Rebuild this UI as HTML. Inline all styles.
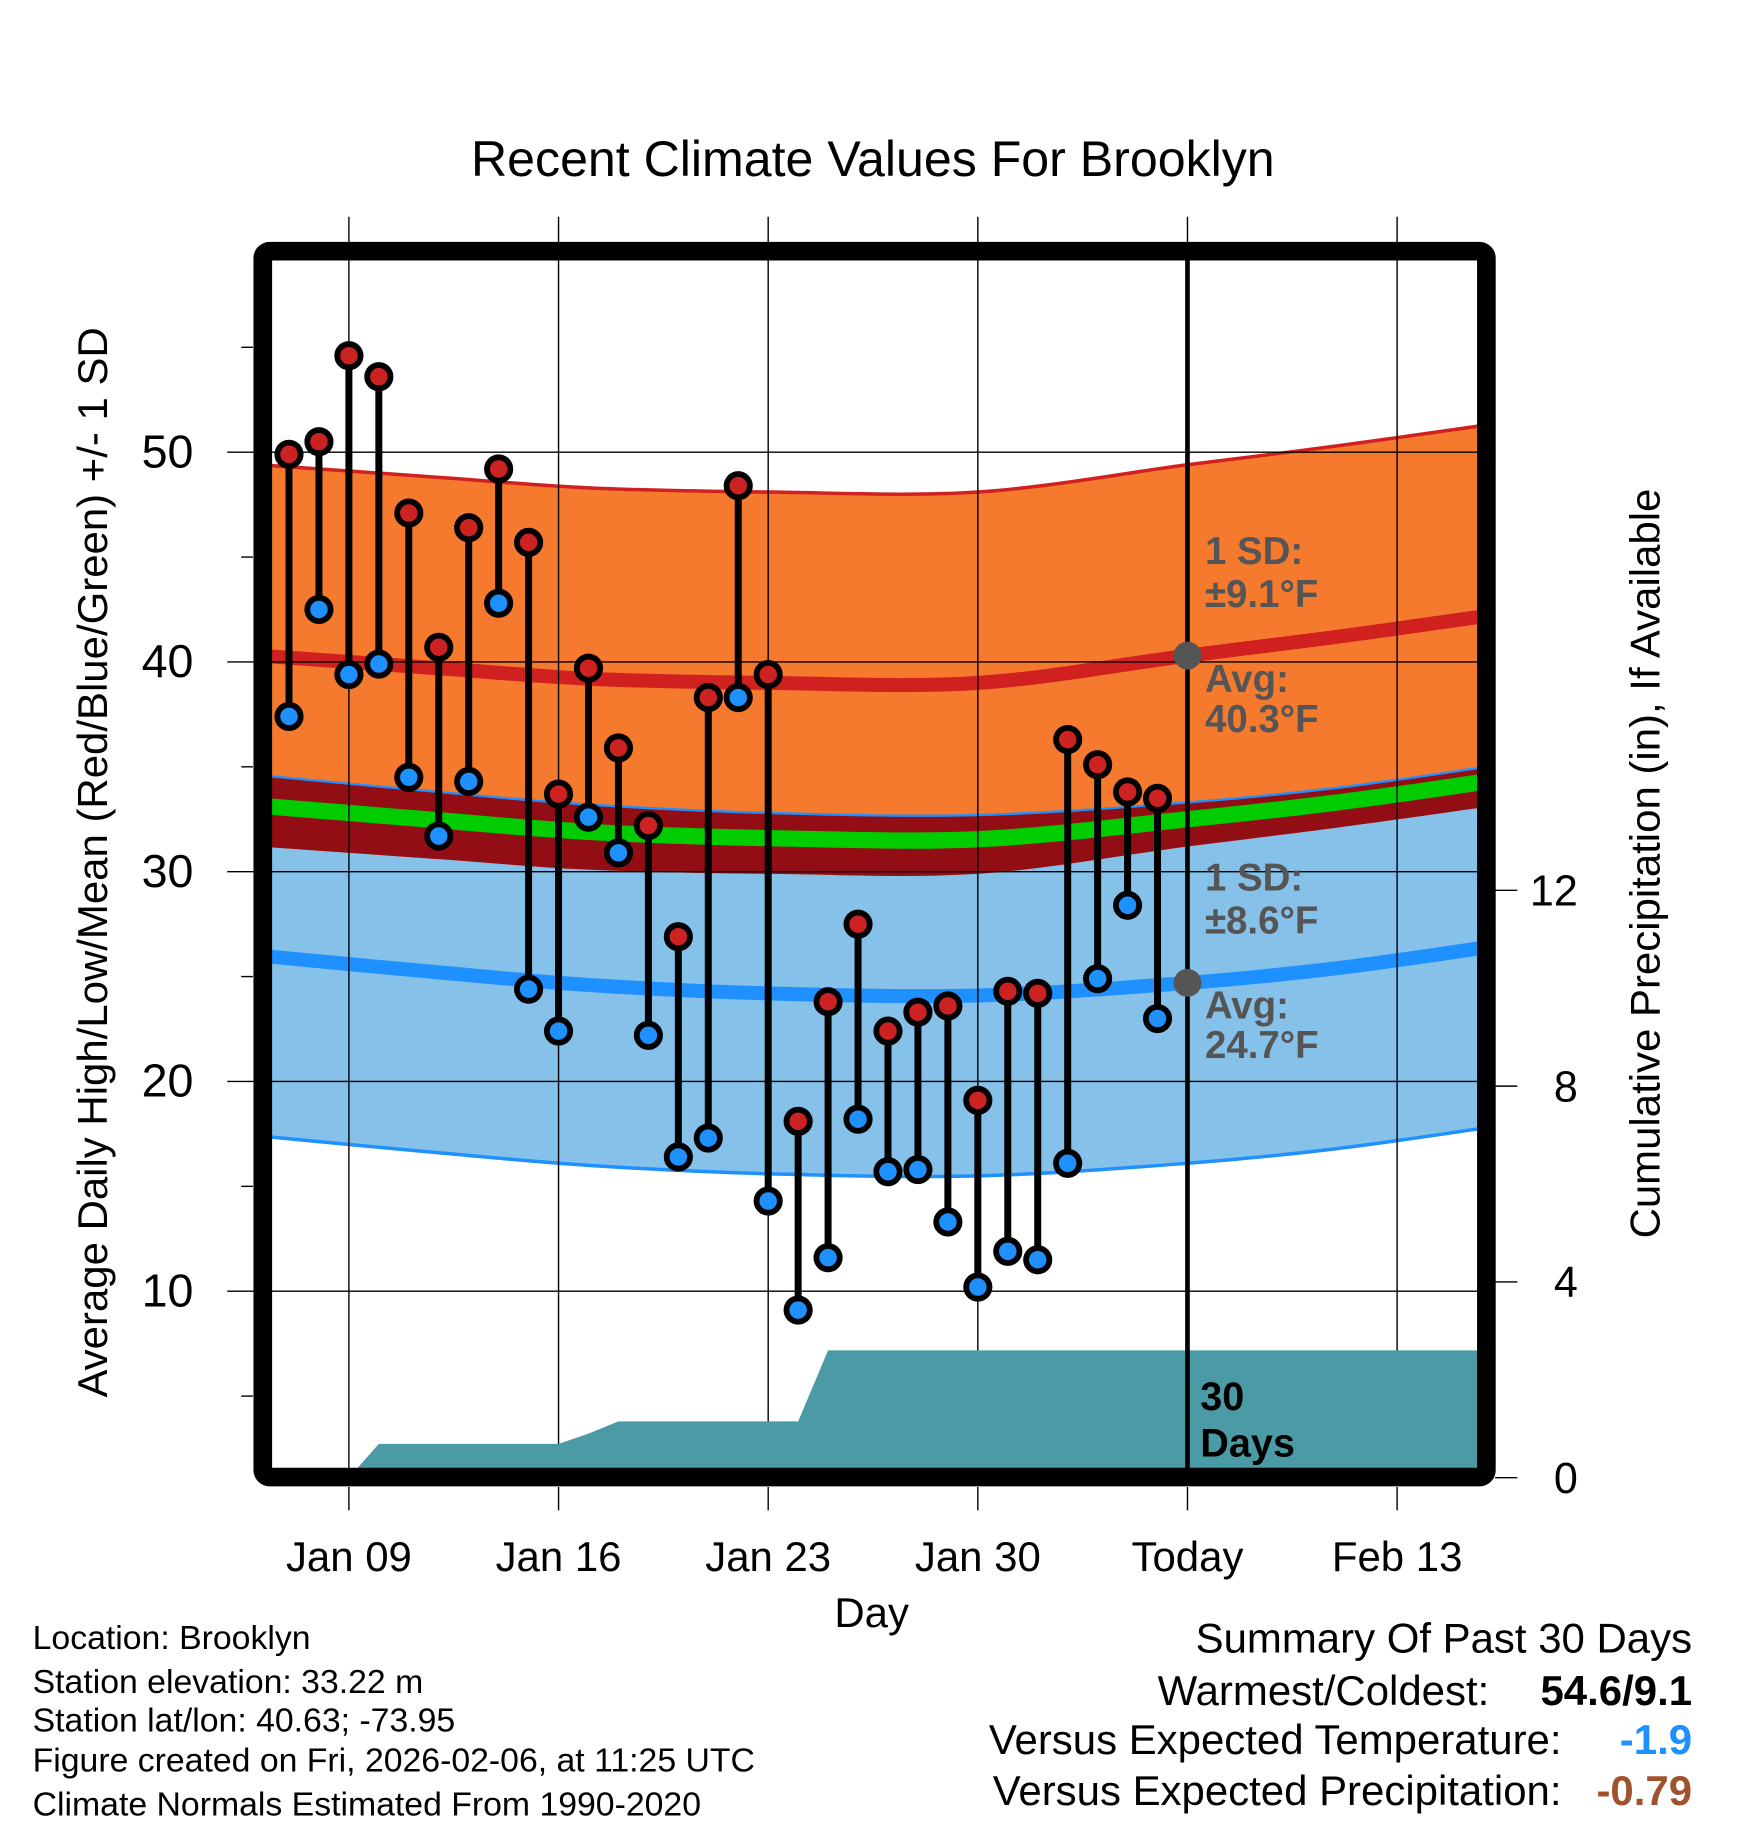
<!DOCTYPE html>
<html><head><meta charset="utf-8"><style>
html,body{margin:0;padding:0;background:#fff}
svg{display:block;font-family:"Liberation Sans",sans-serif}
</style></head><body>
<svg id="chart" xmlns="http://www.w3.org/2000/svg" width="1748" height="1828" viewBox="0 0 1500 1568.6">
<defs><clipPath id="plotclip"><rect x="233" y="223" width="1035" height="1037"/></clipPath></defs>
<rect x="0" y="0" width="1500" height="1568.6" fill="#fff"/>
<text x="749" y="151" font-size="43" text-anchor="middle">Recent Climate Values For Brooklyn</text>
<g id="bands" clip-path="url(#plotclip)"></g>
<g id="grid"></g>
<g id="precip" clip-path="url(#plotclip)"></g>
<g id="marks"></g>
<g id="annot">
<text x="1030" y="1210" font-size="34" font-weight="bold">30</text>
<text x="1030" y="1250" font-size="34" font-weight="bold">Days</text>
<g fill="#555" font-size="33" font-weight="bold">
<text x="1034" y="484">1 SD:</text>
<text x="1034" y="521">±9.1°F</text>
<text x="1034" y="594">Avg:</text>
<text x="1034" y="628">40.3°F</text>
<text x="1034" y="764">1 SD:</text>
<text x="1034" y="801">±8.6°F</text>
<text x="1034" y="874">Avg:</text>
<text x="1034" y="908">24.7°F</text>
</g></g>
<rect x="225.5" y="215.5" width="1050" height="1052" rx="6" fill="none" stroke="#000" stroke-width="16"/>
<g id="axes"></g>
<text transform="translate(92,740) rotate(-90)" font-size="36" text-anchor="middle">Average Daily High/Low/Mean (Red/Blue/Green) +/- 1 SD</text>
<text transform="translate(1424,741) rotate(-90)" font-size="36" text-anchor="middle">Cumulative Precipitation (in), If Available</text>
<text x="748" y="1396" font-size="36" text-anchor="middle">Day</text>
<g font-size="29">
<text x="28" y="1415">Location: Brooklyn</text>
<text x="28" y="1453">Station elevation: 33.22 m</text>
<text x="28" y="1486">Station lat/lon: 40.63; -73.95</text>
<text x="28" y="1520">Figure created on Fri, 2026-02-06, at 11:25 UTC</text>
<text x="28" y="1558">Climate Normals Estimated From 1990-2020</text>
</g>
<g font-size="36" text-anchor="end">
<text x="1452" y="1418">Summary Of Past 30 Days</text>
<text x="1278" y="1463">Warmest/Coldest:</text>
<text x="1452" y="1463" font-weight="bold">54.6/9.1</text>
<text x="1340" y="1505">Versus Expected Temperature:</text>
<text x="1452" y="1505" font-weight="bold" fill="#1e90ff">-1.9</text>
<text x="1340" y="1549">Versus Expected Precipitation:</text>
<text x="1452" y="1549" font-weight="bold" fill="#a0522d">-0.79</text>
</g>
</svg>
<script>
const highs=[49.9,50.5,54.6,53.6,47.1,40.7,46.4,49.2,45.7,33.7,39.7,35.9,32.2,26.9,38.3,48.4,39.4,18.1,23.8,27.5,22.4,23.3,23.6,19.1,24.3,24.2,36.3,35.1,33.8,33.5];
const lows=[37.4,42.5,39.4,39.9,34.5,31.7,34.3,42.8,24.4,22.4,32.6,30.9,22.2,16.4,17.3,38.3,14.3,9.1,11.6,18.2,15.7,15.8,13.3,10.2,11.9,11.5,16.1,24.9,28.4,23.0];
const precipCum=[0,0,0,0.69,0.69,0.69,0.69,0.69,0.69,0.69,0.9,1.15,1.15,1.15,1.15,1.15,1.15,1.15,2.6,2.6,2.6,2.6,2.6,2.6,2.6,2.6,2.6,2.6,2.6,2.6,2.6,2.6,2.6,2.6,2.6,2.6,2.6,2.6,2.6,2.6,2.6];
const normDays=[-1,5,10,16,23,30,35,40];
const highAvg=[40.3,39.7,39.2,39.0,39.0,40.3,41.2,42.2];
const lowAvg=[26.0,25.2,24.6,24.2,24.1,24.7,25.4,26.4];
const highSD=9.1, lowSD=8.6;
const xTickDays=[2,9,16,23,30,37];
const xTickLabels=["Jan 09","Jan 16","Jan 23","Jan 30","Today","Feb 13"];
const yTicks=[10,20,30,40,50];
const yMinor=[5,15,25,35,45,55];
const pTicks=[0,4,8,12];
const todayDay=30;

const NS="http://www.w3.org/2000/svg";
const xd=d=>248+d*25.7;
const yT=v=>388+(50-v)*18;
const yP=p=>1268-p*42;
function mk(tag,attrs,parent){const e=document.createElementNS(NS,tag);for(const k in attrs)e.setAttribute(k,attrs[k]);parent.appendChild(e);return e;}
function spline(pts){let d="M"+pts[0][0]+","+pts[0][1];for(let i=0;i<pts.length-1;i++){const p0=pts[i-1]||pts[i],p1=pts[i],p2=pts[i+1],p3=pts[i+2]||p2;d+=" C"+(p1[0]+(p2[0]-p0[0])/6)+","+(p1[1]+(p2[1]-p0[1])/6)+" "+(p2[0]-(p3[0]-p1[0])/6)+","+(p2[1]-(p3[1]-p1[1])/6)+" "+p2[0]+","+p2[1];}return d;}
function ptsOf(arr,off){return normDays.map((d,i)=>[xd(d),yT(arr[i]+off)]);}
function bandPath(arr,a,b){const top=ptsOf(arr,a),bot=ptsOf(arr,b).reverse();return spline(top)+" L"+spline(bot).slice(1)+" Z";}
const bands=document.getElementById('bands');
let e;
e=mk('path',{d:bandPath(lowAvg,lowSD,-lowSD),fill:'#85c1e9'},bands);


e=mk('path',{d:bandPath(highAvg,highSD,-highSD),fill:'#f57a2e'},bands);


const ovTop=ptsOf(lowAvg,lowSD),ovBot=ptsOf(highAvg,-highSD).reverse();
e=mk('path',{d:spline(ovTop)+" L"+spline(ovBot).slice(1)+" Z",fill:'#920d14'},bands);


const lines=[[highAvg,highSD,'#d02020',3],[highAvg,0,'#d02020',12],[lowAvg,lowSD,'#1e90ff',2],[lowAvg,-lowSD,'#1e90ff',3],[lowAvg,0,'#1e90ff',12]];
lines.forEach((l,i)=>{e=mk('path',{d:spline(ptsOf(l[0],l[1])),fill:'none',stroke:l[2],'stroke-width':l[3]},bands);

});
const meanArr=highAvg.map((v,i)=>(v+lowAvg[i])/2);
e=mk('path',{d:spline(ptsOf(meanArr,0)),fill:'none',stroke:'#00cc00','stroke-width':14},bands);



const grid=document.getElementById('grid');
xTickDays.forEach(d=>{e=mk('line',{x1:xd(d),x2:xd(d),y1:186,y2:1260,stroke:'#000','stroke-width':1.2},grid);

});
yTicks.forEach(v=>{e=mk('line',{x1:195,x2:1268,y1:yT(v),y2:yT(v),stroke:'#000','stroke-width':1.2},grid);

});

const pr=document.getElementById('precip');
let pd="M"+xd(0)+","+yP(0);precipCum.forEach((p,i)=>{pd+=" L"+xd(i)+","+yP(p);});pd+=" L"+xd(precipCum.length-1)+","+yP(0)+" Z";
e=mk('path',{d:pd,fill:'#4a9ba5'},pr);


e=mk('rect',{x:233,y:yP(0)-8,width:xd(0)-233+1,height:8,fill:'#4a9ba5'},pr);



const marks=document.getElementById('marks');
e=mk('line',{x1:xd(todayDay),x2:xd(todayDay),y1:222,y2:1260,stroke:'#000','stroke-width':4},marks);


[[highAvg,'high-avg-marker'],[lowAvg,'low-avg-marker']].forEach(a=>{const v=a[0][normDays.indexOf(todayDay)];e=mk('circle',{cx:xd(todayDay),cy:yT(v),r:12,fill:'#555'},marks);

});
highs.forEach((h,i)=>{const x=xd(i);
e=mk('line',{x1:x,x2:x,y1:yT(h),y2:yT(lows[i]),stroke:'#000','stroke-width':6},marks);


e=mk('circle',{cx:x,cy:yT(h),r:10,fill:'#cc2222',stroke:'#000','stroke-width':5},marks);


e=mk('circle',{cx:x,cy:yT(lows[i]),r:10,fill:'#1e90ff',stroke:'#000','stroke-width':5},marks);

});

const ax=document.getElementById('axes');
xTickDays.forEach((d,i)=>{e=mk('line',{x1:xd(d),x2:xd(d),y1:1276,y2:1296,stroke:'#000','stroke-width':1.2},ax);


e=mk('text',{x:xd(d),y:1348,'font-size':36,'text-anchor':'middle'},ax);e.textContent=xTickLabels[i];

});
yTicks.forEach(v=>{e=mk('text',{x:166,y:yT(v)+13,'font-size':40,'text-anchor':'end'},ax);e.textContent=v;

});
yMinor.forEach(v=>{e=mk('line',{x1:207,x2:217,y1:yT(v),y2:yT(v),stroke:'#000','stroke-width':1.2},ax);

});
pTicks.forEach(p=>{e=mk('line',{x1:1283,x2:1302,y1:yP(p),y2:yP(p),stroke:'#000','stroke-width':1.2},ax);


e=mk('text',{x:1354,y:yP(p)+13,'font-size':37,'text-anchor':'end'},ax);e.textContent=p;

});
</script>
</body></html>
